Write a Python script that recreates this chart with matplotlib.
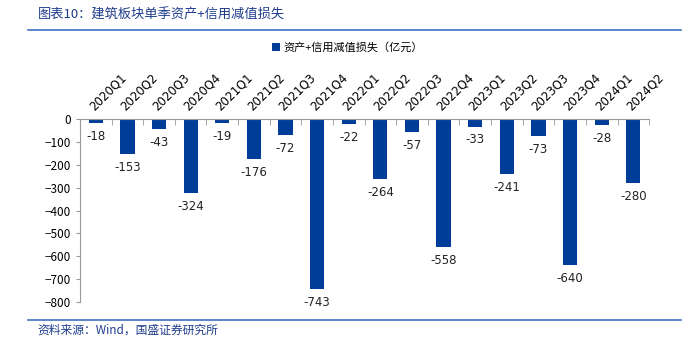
import matplotlib
matplotlib.use("Agg")
import matplotlib.pyplot as plt
import numpy as np

plt.rcParams['font.family'] = ['Noto Sans CJK SC', 'DejaVu Sans']

quarters = ["2020Q1", "2020Q2", "2020Q3", "2020Q4", "2021Q1", "2021Q2", "2021Q3", "2021Q4",
            "2022Q1", "2022Q2", "2022Q3", "2022Q4", "2023Q1", "2023Q2", "2023Q3", "2023Q4",
            "2024Q1", "2024Q2"]
losses = [-18, -153, -43, -324, -19, -176, -72, -743, -22, -264, -57, -558, -33, -241, -73, -640, -28, -280]

barColor = "#003d99"
lineColor = "#3f6fc0"
titleColor = "#1f3d8c"

fig = plt.figure(figsize = (6.84, 3.46), dpi = 100)
ax = fig.add_axes([0.117, 0.127, 0.832, 0.529])

x = np.arange(len(quarters))
ax.bar(x, losses, width = 0.45, color = barColor, label = "资产+信用减值损失（亿元）")

for xi, v in zip(x, losses):
    ax.text(xi, v - 30, str(v), ha = "center", va = "top", fontsize = 8.5,
            family = ["DejaVu Sans"], color = "#222222")

ax.set_xlim(-0.5, len(quarters) - 0.5)
ax.set_ylim(-800, 0)
ax.set_yticks(np.arange(-800, 1, 100))
ax.tick_params(axis = "y", labelsize = 8.5, length = 3, color = "#999999")

ax.xaxis.set_ticks_position("top")
ax.set_xticks(x)
ax.set_xticklabels(quarters, rotation = 45, ha = "left", va = "bottom", fontsize = 8.5,
                   rotation_mode = "anchor", family = ["DejaVu Sans"])
ax.tick_params(axis = "x", length = 0, pad = 4)
# boundary ticks pointing down from the zero line
ax.set_xticks(np.arange(-0.5, len(quarters), 1), minor = True)
ax.tick_params(axis = "x", which = "minor", direction = "in", length = 4, color = "#999999")

for s in ["right", "bottom"]:
    ax.spines[s].set_visible(False)
for s in ["left", "top"]:
    ax.spines[s].set_color("#999999")

ax.legend(loc = "center", bbox_to_anchor = (0.47, 1.39), frameon = False, fontsize = 8,
          handlelength = 0.7, handleheight = 0.7, handletextpad = 0.3)

fig.text(0.055, 0.955, "图表10：建筑板块单季资产+信用减值损失", fontsize = 9.5, style = "italic",
         color = titleColor, va = "center")
fig.add_artist(plt.Line2D([0.041, 0.995], [0.913, 0.913], color = lineColor, linewidth = 1.2))
fig.add_artist(plt.Line2D([0.041, 0.995], [0.075, 0.075], color = lineColor, linewidth = 1.2))
fig.text(0.055, 0.045, "资料来源：Wind，国盛证券研究所", fontsize = 8.5, style = "italic",
         color = titleColor, va = "center")

fig.savefig("out.png", dpi = 100)
